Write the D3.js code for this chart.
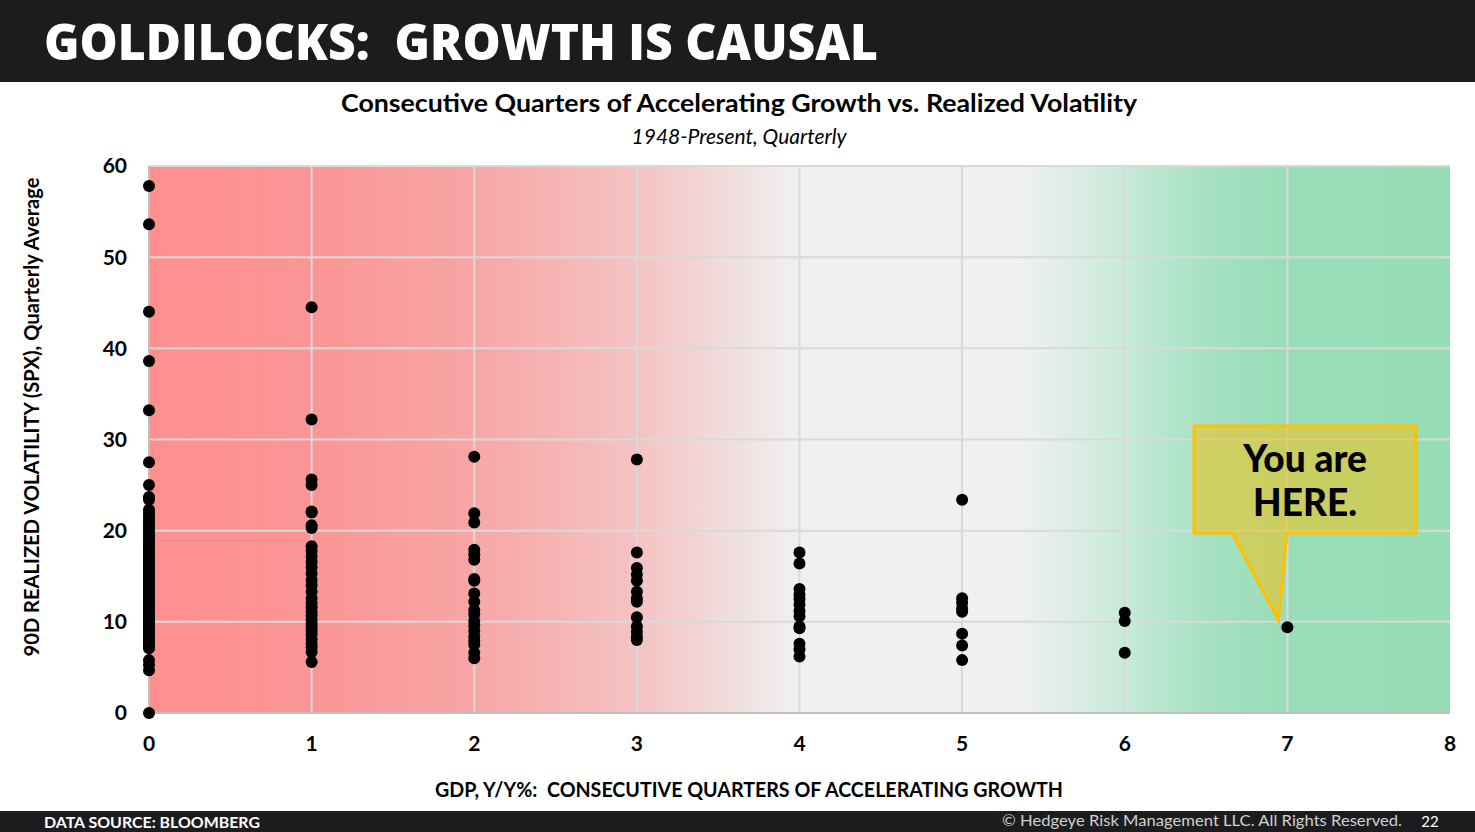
<!DOCTYPE html>
<html>
<head>
<meta charset="utf-8">
<script src="https://cdn.jsdelivr.net/npm/d3@7"></script>
<style>
  body { margin: 0; background: #fff; }
  svg { display: block; }
  text { font-family: Lato, "Open Sans", sans-serif; white-space: pre; }
</style>
</head>
<body>
<svg id="chart" width="1475" height="832"></svg>
<script>
var W = 1475, H = 832;
var margin = { left: 149, right: 25, top: 166, bottom: 119 };

var xTicks = [0, 1, 2, 3, 4, 5, 6, 7, 8];
var yTicks = [0, 10, 20, 30, 40, 50, 60];

// realized vol readings per count of consecutive accelerating quarters
var vol0 = [57.8, 53.6, 44.0, 38.6, 33.2, 27.5, 25.0, 23.7, 23.4, 22.3, 22.0, 21.6, 21.3, 21.0, 20.7,
  20.4, 20.1, 19.8, 19.5, 19.3, 19.0, 18.7, 18.5, 18.2, 18.0, 17.7, 17.5, 17.2, 17.0, 16.8,
  16.5, 16.3, 16.1, 15.9, 15.6, 15.4, 15.2, 15.0, 14.8, 14.6, 14.4, 14.2, 14.0, 13.8, 13.6,
  13.4, 13.2, 13.0, 12.8, 12.6, 12.4, 12.2, 12.0, 11.8, 11.6, 11.5, 11.3, 11.1, 10.9, 10.7,
  10.5, 10.3, 10.1, 9.9, 9.7, 9.5, 9.3, 9.1, 8.9, 8.7, 8.5, 8.3, 8.1, 7.9, 7.7, 7.5, 7.3,
  7.1, 5.8, 5.3, 4.7, 0.0];
var vol1 = [44.5, 32.2, 25.6, 25.0, 22.1, 22.0, 20.6, 20.3, 18.3, 17.8, 17.2, 16.6, 16.0, 15.3,
  14.6, 14.0, 13.3, 12.6, 12.0, 11.6, 11.1, 10.7, 10.2, 9.8, 9.4, 9.0, 8.6, 8.1, 7.6, 7.2, 6.7, 5.6];
var vol2 = [28.1, 21.9, 20.9, 17.9, 17.4, 16.8, 14.7, 14.5, 13.1, 12.2, 11.3, 10.8, 10.1, 9.6,
  9.0, 8.4, 7.9, 7.5, 6.6, 6.0];
var vol3 = [27.8, 17.6, 15.9, 15.2, 14.5, 13.3, 12.6, 12.2, 10.5, 9.5, 8.9, 8.4, 8.0];
var vol4 = [17.6, 16.4, 13.6, 13.0, 12.5, 11.9, 11.2, 10.6, 9.5, 9.3, 7.6, 7.0, 6.2];
var vol5 = [23.4, 12.6, 12.1, 11.5, 11.1, 8.7, 7.4, 5.8];
var vol6 = [11.0, 10.1, 6.6];
var vol7 = [9.4];

var current = { q: 7, vol: 9.4 };

var allVol = [vol0, vol1, vol2, vol3, vol4, vol5, vol6, vol7];
var points = [];
allVol.forEach(function (list, q) {
  list.forEach(function (v) { points.push({ q: q, vol: v }); });
});

// background zone colours (red -> neutral -> green)
var bgStops = [
  { o: 0, c: "#ff8f8f" }, { o: 0.125, c: "#fb9595" }, { o: 0.25, c: "#f8a6a6" },
  { o: 0.375, c: "#f4c3c3" }, { o: 0.47, c: "#f0e6e6" }, { o: 0.5, c: "#f0f0f0" },
  { o: 0.67, c: "#f0f0f0" }, { o: 0.75, c: "#c8eada" }, { o: 0.81, c: "#a7e1c3" },
  { o: 0.875, c: "#98ddb8" }, { o: 1, c: "#96ddb6" }
];

var svg = d3.select("#chart");

var x = d3.scaleLinear().domain([0, 8]).range([margin.left, W - margin.right]);
var y = d3.scaleLinear().domain([0, 60]).range([H - margin.bottom, margin.top]);

// header bar
svg.append("rect").attr("x", 0).attr("y", 0).attr("width", W).attr("height", 82).attr("fill", "#1c1c1e");
svg.append("text").attr("x", 44).attr("y", 60)
  .attr("fill", "#fff").style("font-family", "'Open Sans', sans-serif")
  .style("font-size", "50px").style("font-weight", 800)
  .attr("textLength", 834).attr("lengthAdjust", "spacingAndGlyphs")
  .text("GOLDILOCKS:  GROWTH IS CAUSAL");

// titles
svg.append("text").attr("x", 739).attr("y", 112).attr("text-anchor", "middle")
  .style("font-size", "24px").style("font-weight", 700).attr("fill", "#000")
  .attr("textLength", 796).attr("lengthAdjust", "spacingAndGlyphs")
  .text("Consecutive Quarters of Accelerating Growth vs. Realized Volatility");
svg.append("text").attr("x", 739).attr("y", 144).attr("text-anchor", "middle")
  .style("font-size", "21px").style("font-style", "italic").attr("fill", "#000")
  .text("1948-Present, Quarterly");

// plot background
var grad = svg.append("defs").append("linearGradient").attr("id", "bg")
  .attr("x1", "0%").attr("x2", "100%").attr("y1", "0%").attr("y2", "0%");
grad.selectAll("stop").data(bgStops).enter().append("stop")
  .attr("offset", function (d) { return d.o; })
  .attr("stop-color", function (d) { return d.c; });

svg.append("rect").attr("x", x(0)).attr("y", y(60))
  .attr("width", x(8) - x(0)).attr("height", y(0) - y(60)).attr("fill", "url(#bg)");

// gridlines
svg.append("g").selectAll("line").data(yTicks.slice(1)).enter().append("line")
  .attr("x1", x(0)).attr("x2", x(8))
  .attr("y1", function (d) { return y(d); }).attr("y2", function (d) { return y(d); })
  .attr("stroke", "#d9d9d9").attr("stroke-width", 2);
svg.append("g").selectAll("line").data(xTicks.slice(1, -1)).enter().append("line")
  .attr("y1", y(0)).attr("y2", y(60))
  .attr("x1", function (d) { return x(d); }).attr("x2", function (d) { return x(d); })
  .attr("stroke", "#d9d9d9").attr("stroke-width", 2);

// axes lines
svg.append("line").attr("x1", x(0)).attr("x2", x(0)).attr("y1", y(0)).attr("y2", y(60))
  .attr("stroke", "#bfbfbf").attr("stroke-width", 2);
svg.append("line").attr("x1", x(0)).attr("x2", x(8)).attr("y1", y(0)).attr("y2", y(0))
  .attr("stroke", "#bfbfbf").attr("stroke-width", 2);

// tick labels
svg.append("g").selectAll("text").data(yTicks).enter().append("text")
  .attr("x", 127).attr("y", function (d) { return y(d); }).attr("dy", "0.35em")
  .attr("text-anchor", "end").style("font-size", "21px").style("font-weight", 700)
  .text(function (d) { return d; });
svg.append("g").selectAll("text").data(xTicks).enter().append("text")
  .attr("x", function (d) { return x(d); }).attr("y", 751)
  .attr("text-anchor", "middle").style("font-size", "21px").style("font-weight", 700)
  .text(function (d) { return d; });

// axis titles
svg.append("text").attr("x", 749).attr("y", 797).attr("text-anchor", "middle")
  .style("font-size", "20px").style("font-weight", 700)
  .attr("textLength", 628).attr("lengthAdjust", "spacingAndGlyphs")
  .text("GDP, Y/Y%:  CONSECUTIVE QUARTERS OF ACCELERATING GROWTH");
svg.append("text").attr("transform", "translate(39,417) rotate(-90)").attr("text-anchor", "middle")
  .style("font-size", "20px").style("font-weight", 700)
  .attr("textLength", 479).attr("lengthAdjust", "spacingAndGlyphs")
  .text("90D REALIZED VOLATILITY (SPX), Quarterly Average");

// dots
svg.append("g").selectAll("circle").data(points).enter().append("circle")
  .attr("cx", function (d) { return x(d.q); })
  .attr("cy", function (d) { return y(d.vol); })
  .attr("r", 6).attr("fill", "#000");

// callout
var bx0 = 1194, bx1 = 1416, by0 = 426, by1 = 533;
var tipX = x(current.q) - 9, tipY = y(current.vol) - 7;
var callout = "M" + bx0 + "," + by0 + "L" + bx1 + "," + by0 + "L" + bx1 + "," + by1 +
  "L1287," + by1 + "L" + tipX + "," + tipY + "L1232," + by1 + "L" + bx0 + "," + by1 + "Z";
svg.append("path").attr("d", callout)
  .attr("fill", "#e8c52a").attr("fill-opacity", 0.62)
  .attr("stroke", "#ffc000").attr("stroke-width", 3).attr("stroke-linejoin", "miter");
var calloutText = svg.append("g").style("font-size", "37px").style("font-weight", 900)
  .attr("text-anchor", "middle").attr("fill", "#000");
calloutText.append("text").attr("x", 1305).attr("y", 472).text("You are");
calloutText.append("text").attr("x", 1305).attr("y", 516).text("HERE.");

// footer
svg.append("rect").attr("x", 0).attr("y", 811).attr("width", W).attr("height", 21).attr("fill", "#1c1c1e");
svg.append("text").attr("x", 44).attr("y", 828).attr("fill", "#fff")
  .style("font-size", "15px").style("font-weight", 700)
  .attr("textLength", 216).attr("lengthAdjust", "spacingAndGlyphs")
  .text("DATA SOURCE: BLOOMBERG");
svg.append("text").attr("x", 1402).attr("y", 826).attr("text-anchor", "end").attr("fill", "#d0d0d0")
  .style("font-size", "16px")
  .attr("textLength", 400).attr("lengthAdjust", "spacingAndGlyphs")
  .text("\u00a9 Hedgeye Risk Management LLC. All Rights Reserved.");
svg.append("text").attr("x", 1430).attr("y", 827).attr("text-anchor", "middle").attr("fill", "#fff")
  .style("font-size", "15px")
  .text("22");
</script>
</body>
</html>
